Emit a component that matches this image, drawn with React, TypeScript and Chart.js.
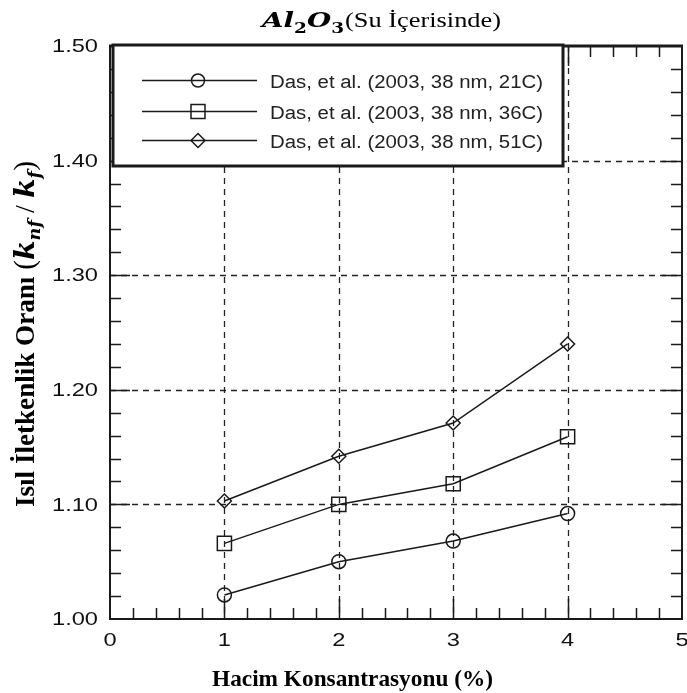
import React, { useEffect, useRef } from 'react';
import { Chart, registerables } from 'chart.js';

Chart.register(...registerables);

// ---- data ----
const xValues = [1, 2, 3, 4];
const series21C = [1.021, 1.05, 1.068, 1.092];
const series36C = [1.066, 1.1, 1.118, 1.159];
const series51C = [1.103, 1.142, 1.171, 1.24];
const seriesLabels = [
  'Das, et al. (2003, 38 nm, 21C)',
  'Das, et al. (2003, 38 nm, 36C)',
  'Das, et al. (2003, 38 nm, 51C)',
];
const seriesMarkers = ['circle', 'rect', 'rectRot'];
const xTickValues = [0, 1, 2, 3, 4, 5];
const yTickValues = [1.0, 1.1, 1.2, 1.3, 1.4, 1.5];
const gridXValues = [1, 2, 3, 4];
const gridYValues = [1.1, 1.2, 1.3, 1.4];
const xMinorStep = 0.2;
const yMinorStep = 0.02;
const xAxisTitle = 'Hacim Konsantrasyonu (%)';
const yAxisTitleText = 'Isıl İletkenlik Oranı';
const titleMain = '(Su İçerisinde)';

const INK = '#1a1a1a';
const SANS = '"Liberation Sans", Arial, sans-serif';
const SERIF = '"Liberation Serif", "Times New Roman", serif';
const MATH = '"DejaVu Serif", "Liberation Serif", serif';

type Part = [string, string, number];

function partsWidth(ctx: CanvasRenderingContext2D, parts: Part[]) {
  let w = 0;
  parts.forEach(([s, f]) => {
    ctx.font = f;
    w += ctx.measureText(s).width;
  });
  return w;
}

// draws parts sequentially, starting at (x, y), scaled to target width
function drawParts(
  ctx: CanvasRenderingContext2D,
  parts: Part[],
  x: number,
  y: number,
  targetW: number,
  sy = 1
) {
  const w = partsWidth(ctx, parts);
  ctx.save();
  ctx.translate(x, y);
  ctx.scale(targetW / w, sy);
  ctx.textAlign = 'left';
  ctx.textBaseline = 'alphabetic';
  let cx = 0;
  parts.forEach(([s, f, dy]) => {
    ctx.font = f;
    ctx.fillText(s, cx, dy);
    cx += ctx.measureText(s).width;
  });
  ctx.restore();
}

function drawMarker(ctx: CanvasRenderingContext2D, style: string, x: number, y: number) {
  ctx.beginPath();
  if (style === 'circle') {
    ctx.arc(x, y, 6.5, 0, Math.PI * 2);
  } else if (style === 'rect') {
    ctx.rect(x - 7, y - 7, 14, 14);
  } else {
    ctx.moveTo(x - 7, y);
    ctx.lineTo(x, y - 7);
    ctx.lineTo(x + 7, y);
    ctx.lineTo(x, y + 7);
    ctx.closePath();
  }
  ctx.stroke();
}

const framePlugin = {
  id: 'framePlugin',
  beforeDatasetsDraw(chart: any) {
    const { ctx, chartArea: a, scales } = chart;
    const x = scales.x;
    const y = scales.y;
    ctx.save();
    ctx.strokeStyle = '#222';
    ctx.lineWidth = 1.3;
    ctx.setLineDash([6, 5]);
    gridXValues.forEach((v) => {
      const px = Math.round(x.getPixelForValue(v)) + 0.5;
      ctx.beginPath();
      ctx.moveTo(px, a.top);
      ctx.lineTo(px, a.bottom);
      ctx.stroke();
    });
    gridYValues.forEach((v) => {
      const py = Math.round(y.getPixelForValue(v)) + 0.5;
      ctx.beginPath();
      ctx.moveTo(a.left, py);
      ctx.lineTo(a.right, py);
      ctx.stroke();
    });
    ctx.restore();
  },
  afterDatasetsDraw(chart: any) {
    const { ctx, chartArea: a, scales } = chart;
    const x = scales.x;
    const y = scales.y;
    ctx.save();
    ctx.setLineDash([]);
    ctx.strokeStyle = INK;
    // ticks (inward)
    ctx.lineWidth = 1.5;
    const xMin = x.min, xMax = x.max;
    for (let i = 1; xMin + i * xMinorStep < xMax - 1e-6; i++) {
      const v = xMin + i * xMinorStep;
      const major = Math.abs(v - Math.round(v)) < 1e-6;
      const len = major ? 20 : 11;
      const px = Math.round(x.getPixelForValue(v)) + 0.5;
      ctx.beginPath();
      ctx.moveTo(px, a.bottom);
      ctx.lineTo(px, a.bottom - len);
      ctx.moveTo(px, a.top);
      ctx.lineTo(px, a.top + len);
      ctx.stroke();
    }
    const yMin = y.min, yMax = y.max;
    for (let i = 1; yMin + i * yMinorStep < yMax - 1e-6; i++) {
      const v = yMin + i * yMinorStep;
      const major = Math.abs(v * 10 - Math.round(v * 10)) < 1e-6;
      const len = major ? 20 : 11;
      const py = Math.round(y.getPixelForValue(v)) + 0.5;
      ctx.beginPath();
      ctx.moveTo(a.left, py);
      ctx.lineTo(a.left + len, py);
      ctx.moveTo(a.right, py);
      ctx.lineTo(a.right - len, py);
      ctx.stroke();
    }
    // frame
    ctx.lineWidth = 2;
    ctx.beginPath();
    ctx.moveTo(a.left, a.top);
    ctx.lineTo(a.left, a.bottom);
    ctx.lineTo(a.right, a.bottom);
    ctx.lineTo(a.right, a.top);
    ctx.stroke();
    ctx.lineWidth = 3;
    ctx.beginPath();
    ctx.moveTo(a.left - 1, a.top);
    ctx.lineTo(a.right + 1, a.top);
    ctx.stroke();

    // tick labels
    ctx.fillStyle = '#111';
    ctx.font = '19px ' + SANS;
    const tsx = 46 / ctx.measureText('1.50').width;
    ctx.textBaseline = 'middle';
    yTickValues.forEach((v) => {
      const s = v.toFixed(2);
      const py = y.getPixelForValue(v);
      ctx.save();
      ctx.translate(a.left - 12, py + 1);
      ctx.scale(tsx, 1);
      ctx.textAlign = 'right';
      ctx.fillText(s, 0, 0);
      ctx.restore();
    });
    ctx.textBaseline = 'top';
    xTickValues.forEach((v) => {
      const px = x.getPixelForValue(v);
      ctx.save();
      ctx.translate(px, a.bottom + 12);
      ctx.scale(tsx, 1);
      ctx.textAlign = 'center';
      ctx.fillText(String(v), 0, 0);
      ctx.restore();
    });

    // legend box
    const lx = a.left + 3, ly = a.top - 1, lw = 450, lh = 121;
    ctx.fillStyle = '#fff';
    ctx.fillRect(lx, ly, lw, lh);
    ctx.lineWidth = 3;
    ctx.strokeStyle = INK;
    ctx.strokeRect(lx, ly, lw, lh);
    const rows = [80, 111, 140];
    seriesLabels.forEach((label, i) => {
      const ry = rows[i] + 0.5;
      ctx.lineWidth = 1.5;
      ctx.strokeStyle = INK;
      ctx.beginPath();
      ctx.moveTo(142, ry);
      ctx.lineTo(257, ry);
      ctx.stroke();
      drawMarker(ctx, seriesMarkers[i], 198, ry);
      ctx.fillStyle = '#222';
      drawParts(ctx, [[label, '18px ' + SANS, 0]], 270, ry + 7, 273);
    });

    // chart title
    ctx.fillStyle = '#000';
    drawParts(
      ctx,
      [
        ['Al', 'italic bold 21px ' + MATH, 0],
        ['2', 'bold 14px ' + MATH, 6],
        ['O', 'italic bold 21px ' + MATH, 0],
        ['3', 'bold 14px ' + MATH, 6],
      ],
      262,
      27,
      82
    );
    drawParts(ctx, [[titleMain, '20.5px ' + SERIF, 0]], 345, 27, 156);

    // x axis title
    drawParts(ctx, [[xAxisTitle, 'bold 23px ' + SERIF, 0]], 212, 686, 281);

    // y axis title (rotated)
    ctx.save();
    ctx.translate(34, 507);
    ctx.rotate(-Math.PI / 2);
    drawParts(
      ctx,
      [
        [yAxisTitleText + ' ', 'bold 23px ' + SERIF, 0],
        ['(', '25px ' + SERIF, 0],
        ['k', 'italic bold 24px ' + MATH, 0],
        ['nf', 'italic bold 15px ' + MATH, 5],
        [' / ', '24px ' + SERIF, 0],
        ['k', 'italic bold 24px ' + MATH, 0],
        ['f', 'italic bold 15px ' + MATH, 5],
        [')', '25px ' + SERIF, 0],
      ],
      0,
      0,
      346,
      1.15
    );
    ctx.restore();

    ctx.restore();
  },
};

export default function App() {
  const canvasRef = useRef<HTMLCanvasElement | null>(null);

  useEffect(() => {
    const canvas = canvasRef.current;
    if (!canvas) return;
    const mk = (vals: number[], i: number) => ({
      label: seriesLabels[i],
      data: xValues.map((xv, j) => ({ x: xv, y: vals[j] })),
      borderColor: INK,
      borderWidth: 1.5,
      backgroundColor: 'rgba(0,0,0,0)',
      pointStyle: seriesMarkers[i] as any,
      pointRadius: i === 1 ? 10 : 7,
      pointBorderWidth: 1.5,
      pointBorderColor: INK,
      pointBackgroundColor: 'rgba(0,0,0,0)',
      tension: 0,
      fill: false,
    });
    const chart = new Chart(canvas, {
      type: 'line',
      data: {
        datasets: [mk(series21C, 0), mk(series36C, 1), mk(series51C, 2)],
      },
      options: {
        animation: false,
        responsive: false,
        maintainAspectRatio: false,
        layout: { autoPadding: false, padding: { top: 46, right: 5, left: 0, bottom: 0 } },
        plugins: {
          legend: { display: false },
          tooltip: { enabled: false },
          title: { display: false },
        },
        scales: {
          x: {
            type: 'linear',
            min: 0,
            max: 5,
            afterBuildTicks: (s: any) => {
              s.ticks = xTickValues.map((v) => ({ value: v }));
            },
            afterFit: (s: any) => {
              s.height = 74;
              s.paddingLeft = 0;
              s.paddingRight = 0;
            },
            grid: { display: false, drawTicks: false },
            border: { display: false },
            ticks: { display: false },
          },
          y: {
            type: 'linear',
            min: 1.0,
            max: 1.5,
            afterBuildTicks: (s: any) => {
              s.ticks = yTickValues.map((v) => ({ value: v }));
            },
            afterFit: (s: any) => {
              s.width = 110;
              s.paddingTop = 0;
              s.paddingBottom = 0;
            },
            grid: { display: false, drawTicks: false },
            border: { display: false },
            ticks: { display: false },
          },
        },
      },
      plugins: [framePlugin],
    });
    return () => chart.destroy();
  }, []);

  return (
    <div style={{ position: 'fixed', left: 0, top: 0, width: 687, height: 693, background: '#fff' }}>
      <canvas ref={canvasRef} width={687} height={693} style={{ display: 'block' }} />
    </div>
  );
}
